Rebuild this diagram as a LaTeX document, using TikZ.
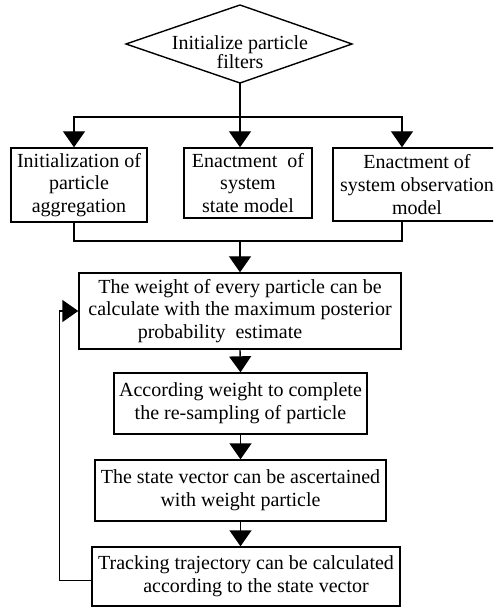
\documentclass[tikz,border=0pt]{standalone}
\usepackage{fontspec}
\setmainfont{Liberation Serif}
\usetikzlibrary{arrows.meta}
\begin{document}
\begin{tikzpicture}[x=0.5pt,y=-0.5pt,line width=0.7pt,
		box/.style={draw,align=center,inner sep=0pt,font=\fontsize{10}{11.3}\selectfont},
		arr/.style={-{Triangle[width=11pt,length=8pt]}}]
	\useasboundingbox (0,0) rectangle (493,608);
	\clip (0,0) rectangle (493,608);
	% start
	\draw (126,44)--(240,5)--(352,44)--(240,83)--cycle;
	\node[align=center,inner sep=0pt,font=\fontsize{10}{9.5}\selectfont] (start) at (240,52.5) {Initialize particle\\filters};
	\coordinate (startb) at (240,83);
	\coordinate (split) at (240,117);
	% three set-up boxes
	\node[box,minimum width=68pt,minimum height=37pt] (agg) at (79,185) {Initialization of\\particle\\aggregation};
	\node[box,minimum width=64pt,minimum height=35pt] (sm) at (248,183) {Enactment\ \ of\\system\\state model};
	\node[box,minimum width=84pt,minimum height=36.5pt] (om) at (417,184.5) {Enactment of\\system observation\\model};
	\coordinate (merge) at (240,241);
	% loop
	\node[box,minimum width=161pt,minimum height=38pt] (wt) at (240,311) {The weight of every particle can be\\calculate with the maximum posterior\\probability\ \ estimate\hspace*{20pt}};
	\node[box,minimum width=126.5pt,minimum height=30.5pt] (rs) at (240.5,403.5) {According weight to complete\\the re-sampling of particle};
	\node[box,minimum width=145.5pt,minimum height=30.5pt] (sv) at (240.5,490.5) {The state vector can be ascertained\\with weight particle};
	\node[box,minimum width=154pt,minimum height=29.5pt] (tr) at (246,576.5) {Tracking trajectory can be calculated\\\hspace*{10pt}according to the state vector};
	% connectors
	\draw (startb)--(split);
	\draw[arr] (split)-|([xshift=-2.5pt]agg.north);
	\draw[arr] (split)--(split|-sm.north);
	\draw[arr] (split)-|([xshift=-7.5pt]om.north);
	\draw ([xshift=-2.5pt]agg.south)|-(merge);
	\draw ([xshift=-7.5pt]om.south)|-(merge);
	\draw[arr] (merge-|sm.south)--(merge)--(wt.north);
	\draw[arr] (wt.south)--(rs.north);
	\draw[arr] (rs.south)--(sv.north);
	\draw[arr] (sv.south)--(sv.south|-tr.north);
	\draw[arr] ([yshift=-2pt]tr.west)--++(-16pt,0)|-(wt.west);
\end{tikzpicture}
\end{document}
